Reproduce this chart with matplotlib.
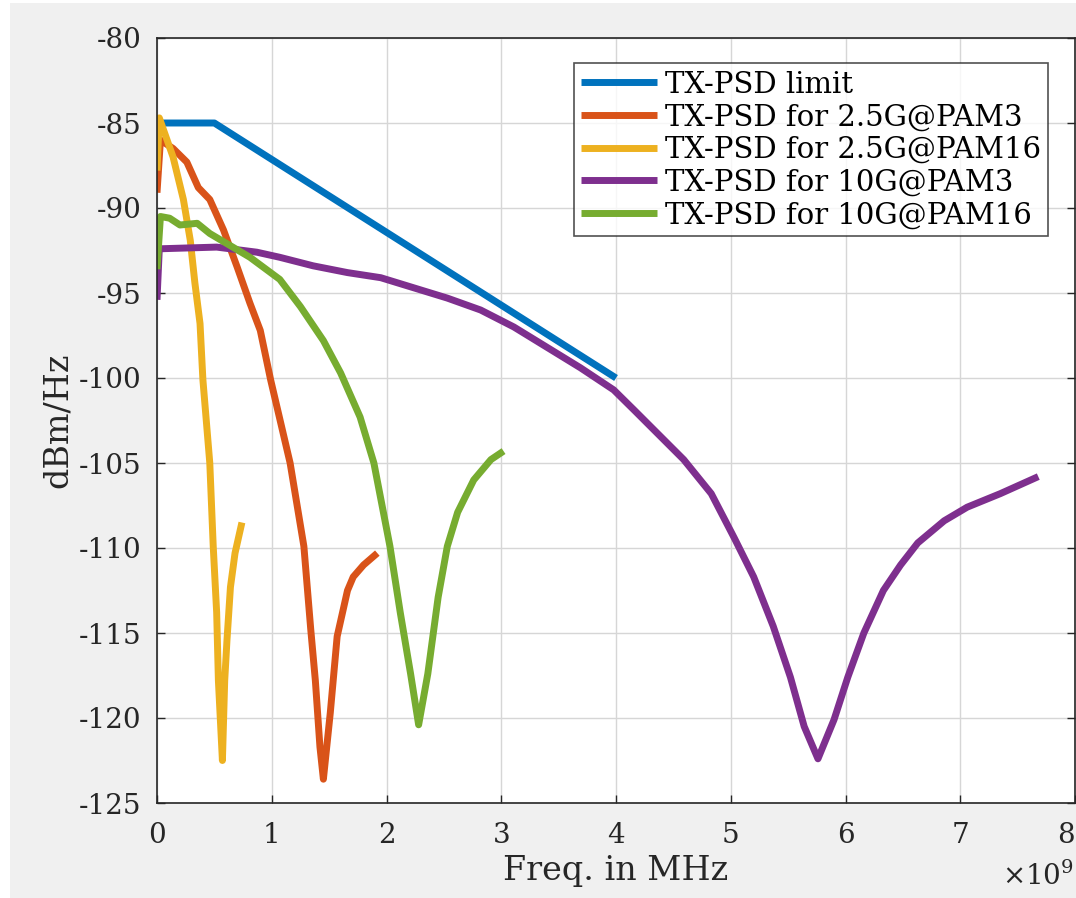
import matplotlib.pyplot as plt
from matplotlib.patches import Rectangle

plt.rcParams['font.family'] = ['DejaVu Serif']
plt.rcParams['mathtext.fontset'] = 'dejavuserif'
plt.rcParams['axes.unicode_minus'] = False

# frequencies in units of 1e9
limit_f = [0, 0.5, 4.0]
limit_p = [-85, -85, -100]

pam3_25_f = [0, 0.03, 0.14, 0.26, 0.36, 0.46, 0.58, 0.70, 0.81, 0.90, 0.99, 1.16, 1.28,
             1.34, 1.38, 1.42, 1.45, 1.51, 1.57, 1.66, 1.71, 1.80, 1.92]
pam3_25_p = [-89.1, -86.0, -86.5, -87.3, -88.8, -89.5, -91.3, -93.5, -95.6, -97.2, -100.1,
             -105.0, -109.9, -114.8, -117.8, -121.7, -123.6, -119.7, -115.2, -112.5, -111.7,
             -111.0, -110.3]

pam16_25_f = [0, 0.02, 0.14, 0.23, 0.29, 0.33, 0.375, 0.40, 0.46, 0.49, 0.52, 0.535, 0.57,
              0.59, 0.61, 0.64, 0.68, 0.74]
pam16_25_p = [-87.8, -84.7, -87.0, -89.5, -91.9, -94.4, -96.8, -100.1, -105.0, -109.9,
              -113.8, -117.8, -122.5, -117.8, -115.4, -112.3, -110.3, -108.5]

pam3_10_f = [0, 0.02, 0.52, 0.87, 1.07, 1.36, 1.66, 1.95, 2.24, 2.53, 2.82, 3.11, 3.40, 3.69,
             3.98, 4.16, 4.59, 4.83, 5.03, 5.20, 5.37, 5.52, 5.64, 5.76, 5.90, 6.02, 6.16,
             6.33, 6.48, 6.63, 6.86, 7.06, 7.35, 7.68]
pam3_10_p = [-95.4, -92.4, -92.3, -92.6, -92.9, -93.4, -93.8, -94.1, -94.7, -95.3, -96.0,
             -97.0, -98.2, -99.4, -100.7, -101.9, -104.8, -106.8, -109.4, -111.7, -114.6,
             -117.6, -120.5, -122.4, -120.1, -117.6, -115.0, -112.5, -111.0, -109.7, -108.4,
             -107.6, -106.8, -105.8]

pam16_10_f = [0, 0.03, 0.11, 0.20, 0.35, 0.46, 0.61, 0.81, 1.07, 1.25, 1.45, 1.60, 1.77,
              1.89, 2.03, 2.12, 2.21, 2.28, 2.36, 2.45, 2.53, 2.62, 2.76, 2.91, 3.02]
pam16_10_p = [-93.6, -90.5, -90.6, -91.0, -90.9, -91.5, -92.1, -92.9, -94.2, -95.8, -97.8,
              -99.7, -102.3, -105.0, -109.9, -113.8, -117.4, -120.4, -117.4, -112.9, -109.9,
              -107.9, -106.0, -104.8, -104.3]

x_ticks = [0, 1, 2, 3, 4, 5, 6, 7, 8]

series = [
    (limit_f, limit_p, 'TX-PSD limit', '#0072BD'),
    (pam3_25_f, pam3_25_p, 'TX-PSD for 2.5G@PAM3', '#D95319'),
    (pam16_25_f, pam16_25_p, 'TX-PSD for 2.5G@PAM16', '#EDB120'),
    (pam3_10_f, pam3_10_p, 'TX-PSD for 10G@PAM3', '#7E2F8E'),
    (pam16_10_f, pam16_10_p, 'TX-PSD for 10G@PAM16', '#77AC30'),
]

fig = plt.figure(figsize=(10.76, 8.98), dpi=100, facecolor='white')
fig.patches.append(Rectangle((10 / 1076, 0), 1, 1 - 3 / 898, transform=fig.transFigure,
                             facecolor='#f0f0f0', edgecolor='none', zorder=-10))
ax = fig.add_axes([157 / 1076, 95 / 898, 918 / 1076, 765 / 898])

for f, p, name, col in series:
    ax.plot([v * 1e9 for v in f], p, color=col, lw=5, label=name, solid_capstyle='butt')

ax.set_xlim(0, 8e9)
ax.set_ylim(-125, -80)
ax.set_yticks(range(-125, -79, 5))
ax.set_xticks([t * 1e9 for t in x_ticks])
ax.set_xticklabels([str(t) for t in x_ticks])
# last label sits on the figure edge; keep it inside
ax.get_xticklabels()[-1].set_horizontalalignment('right')

ax.grid(True, color='#d6d6d6', lw=1)
ax.set_axisbelow(True)
ax.tick_params(direction='in', length=6, width=1, labelsize=20, top=False, right=True,
               colors='#262626')
ax.tick_params(axis='x', pad=14)
ax.tick_params(axis='y', pad=11)
for s in ax.spines.values():
    s.set_color('#262626')
    s.set_linewidth(1.2)

ax.set_xlabel('Freq. in MHz', fontsize=24, color='#262626', labelpad=4)
ax.set_ylabel('dBm/Hz', fontsize=24, color='#262626', labelpad=4)
fig.text(1074 / 1076, 1 - 876 / 898, r'$\times10^{9}$', fontsize=20, color='#262626',
         ha='right', va='center')

leg = ax.legend(loc='upper right', bbox_to_anchor=(0.9706, 0.967), fontsize=21, frameon=True,
                fancybox=False, edgecolor='#262626', handlelength=2.6, handletextpad=0.25,
                labelspacing=0.16, borderpad=0.25, borderaxespad=0)
leg.get_frame().set_linewidth(1.2)

fig.savefig('out.png', dpi=100, facecolor=fig.get_facecolor())
